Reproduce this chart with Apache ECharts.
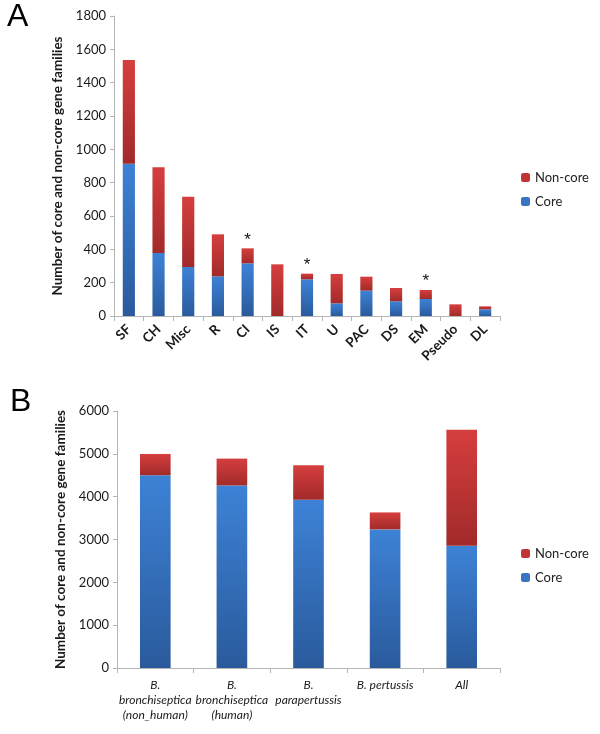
<!DOCTYPE html>
<html>
<head>
<meta charset="utf-8">
<script src="https://cdn.jsdelivr.net/npm/echarts@6/dist/echarts.min.js"></script>
<style>
html,body{margin:0;padding:0;background:#fff;}
#c{width:600px;height:734px;}
</style>
</head>
<body>
<div id="c"></div>
<script>
// Panel A data
const catA = ['SF','CH','Misc','R','CI','IS','IT','U','PAC','DS','EM','Pseudo','DL'];
const coreA = [914, 378, 294, 238, 316, 0, 220, 76, 152, 88, 102, 0, 40];
const nonCoreA = [622, 514, 422, 252, 90, 310, 34, 176, 84, 80, 54, 70, 18];
const starredA = ['CI','IT','EM'];
const ticksA = [0,200,400,600,800,1000,1200,1400,1600,1800];

// Panel B data
const catB = ['B.\nbronchiseptica\n(non_human)','B.\nbronchiseptica\n(human)','B.\nparapertussis','B. pertussis','All'];
const coreB = [4501, 4261, 3926, 3236, 2855];
const nonCoreB = [496, 628, 807, 396, 2710];
const ticksB = [0,1000,2000,3000,4000,5000,6000];

const yName = 'Number of core and non-core gene families';
const FONT = 'Lato';

function grad(top, bottom){
  return new echarts.graphic.LinearGradient(0,0,0,1,[{offset:0,color:top},{offset:1,color:bottom}]);
}
const blueG = () => grad('#3d82d6','#2a5a9c');
const redG = () => grad('#d63e3e','#a22a2a');

const axisLine = {lineStyle:{color:'#b5b5b5'}};
const plain = v => String(v);

const chart = echarts.init(document.getElementById('c'));
chart.setOption({
  animation:false,
  textStyle:{fontFamily:FONT},
  title:[
    {text:'A', left:7, top:1, padding:0, textStyle:{fontFamily:'Liberation Sans', fontSize:32, fontWeight:'normal', color:'#000'}},
    {text:'B', left:10, top:386, padding:0, textStyle:{fontFamily:'Liberation Sans', fontSize:32, fontWeight:'normal', color:'#000'}}
  ],
  grid:[
    {left:114, top:16, width:386, height:300},
    {left:117, top:411, width:383, height:257}
  ],
  legend:[
    {orient:'vertical', left:516, top:166, itemWidth:9, itemHeight:9, itemGap:11,
     textStyle:{fontSize:13, color:'#222', fontFamily:FONT},
     data:[{name:'Non-core', itemStyle:{color:'#c23434'}},{name:'Core', itemStyle:{color:'#3874c4'}}]},
    {orient:'vertical', left:516, top:542, itemWidth:9, itemHeight:9, itemGap:11,
     textStyle:{fontSize:13, color:'#222', fontFamily:FONT},
     data:[{name:'Non-core', itemStyle:{color:'#c23434'}},{name:'Core', itemStyle:{color:'#3874c4'}}]}
  ],
  xAxis:[
    {type:'category', gridIndex:0, data:catA,
     axisLine:axisLine, axisTick:{show:true, length:5, lineStyle:{color:'#b5b5b5'}},
     axisLabel:{rotate:45, fontSize:13.5, fontWeight:'bold', color:'#1a1a1a', margin:11, interval:0, fontFamily:FONT}},
    {type:'category', gridIndex:1, data:catB,
     axisLine:axisLine, axisTick:{show:true, length:5, lineStyle:{color:'#b5b5b5'}},
     axisLabel:{fontSize:12, fontStyle:'italic', color:'#1a1a1a', margin:10, lineHeight:15, interval:0, fontFamily:FONT}}
  ],
  yAxis:[
    {type:'value', gridIndex:0, min:ticksA[0], max:ticksA[ticksA.length-1], interval:ticksA[1]-ticksA[0],
     name:yName, nameLocation:'middle', nameGap:45, nameRotate:90,
     nameTextStyle:{fontSize:13.5, fontWeight:'bold', color:'#1a1a1a', fontFamily:FONT},
     splitLine:{show:false}, axisLine:{show:true, lineStyle:{color:'#b5b5b5'}},
     axisTick:{show:true, length:4, lineStyle:{color:'#b5b5b5'}},
     axisLabel:{fontSize:13, color:'#1a1a1a', margin:8, fontFamily:FONT, formatter:plain}},
    {type:'value', gridIndex:1, min:ticksB[0], max:ticksB[ticksB.length-1], interval:ticksB[1]-ticksB[0],
     name:yName, nameLocation:'middle', nameGap:48, nameRotate:90,
     nameTextStyle:{fontSize:13.5, fontWeight:'bold', color:'#1a1a1a', fontFamily:FONT},
     splitLine:{show:false}, axisLine:{show:true, lineStyle:{color:'#b5b5b5'}},
     axisTick:{show:true, length:4, lineStyle:{color:'#b5b5b5'}},
     axisLabel:{fontSize:13, color:'#1a1a1a', margin:8, fontFamily:FONT, formatter:plain}}
  ],
  series:[
    {name:'Core', type:'bar', stack:'a', xAxisIndex:0, yAxisIndex:0, data:coreA,
     barWidth:'41%', itemStyle:{color:blueG()}},
    {name:'Non-core', type:'bar', stack:'a', xAxisIndex:0, yAxisIndex:0, data:nonCoreA,
     barWidth:'41%', itemStyle:{color:redG()},
     label:{show:true, position:'top', distance:0, fontSize:17, color:'#111', fontFamily:'Liberation Sans',
       formatter:p => starredA.includes(catA[p.dataIndex]) ? '*' : ''}},
    {name:'Core', type:'bar', stack:'b', xAxisIndex:1, yAxisIndex:1, data:coreB,
     barWidth:'40%', itemStyle:{color:blueG()}},
    {name:'Non-core', type:'bar', stack:'b', xAxisIndex:1, yAxisIndex:1, data:nonCoreB,
     barWidth:'40%', itemStyle:{color:redG()}}
  ]
});
</script>
</body>
</html>
